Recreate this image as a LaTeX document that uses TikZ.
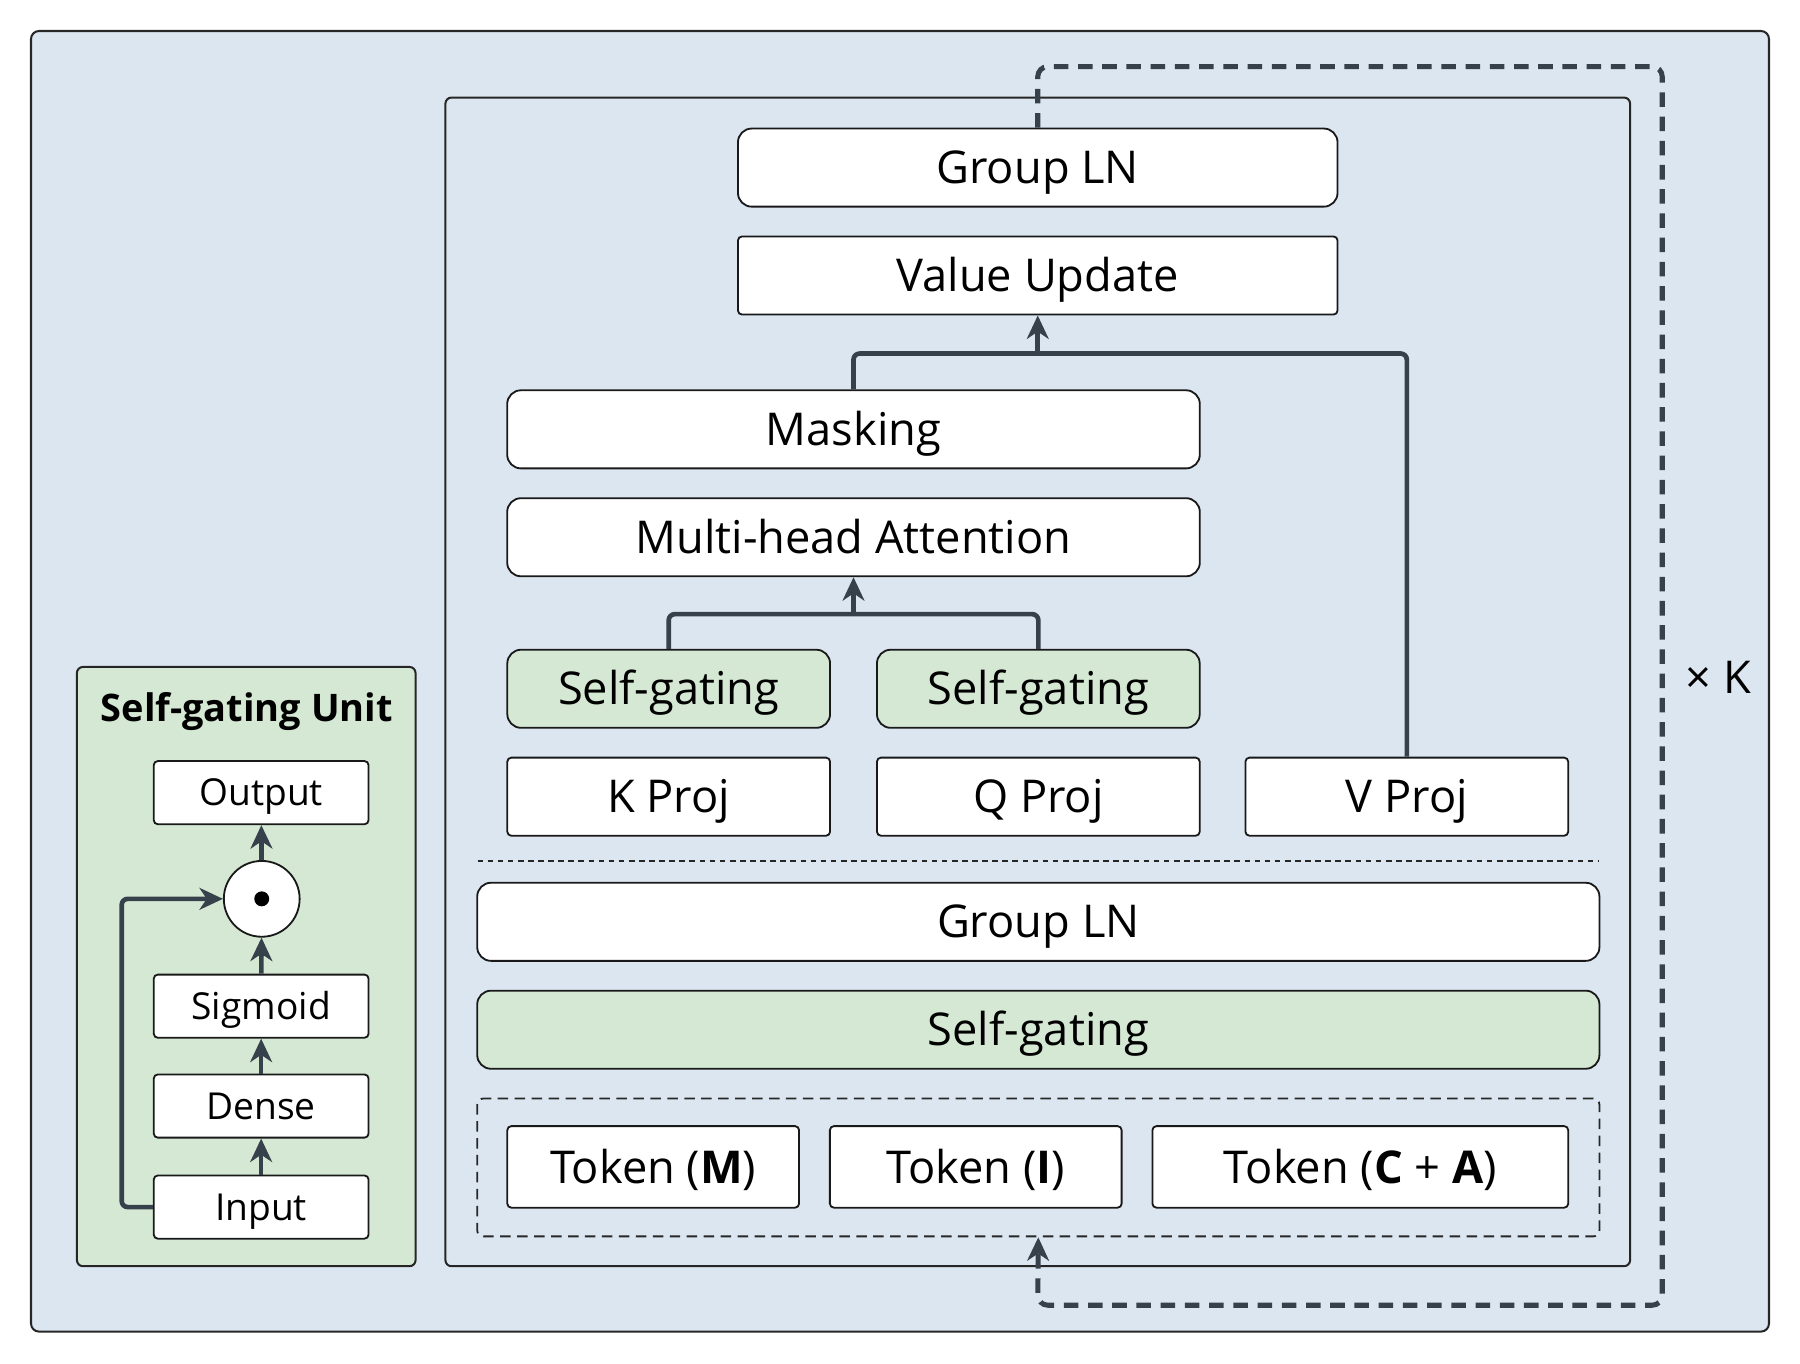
\documentclass[tikz,border=0pt]{standalone}
\usepackage{fontspec}
\setmainfont{Open Sans}
\usetikzlibrary{arrows.meta,positioning}
\definecolor{panelbg}{HTML}{DCE6F0}
\definecolor{gatefill}{HTML}{D5E8D4}
\definecolor{wire}{HTML}{37414B}
\tikzset{
  block/.style={draw=black!90, fill=white, line width=0.45pt, rounded corners=1pt,
    font=\fontsize{11.2}{13}\selectfont, text height=8pt, text depth=0pt,
    minimum height=0.68cm, inner sep=0pt},
  rblock/.style={block, rounded corners=0.12cm},
  gate/.style={rblock, fill=gatefill},
  small/.style={block, minimum width=1.87cm, minimum height=0.55cm,
    font=\fontsize{9.2}{11}\selectfont, text height=6.5pt},
  tokframe/.style={draw=black!85, line width=0.45pt, dash pattern=on 2.6pt off 1.6pt,
    rounded corners=1.5pt, minimum width=9.77cm, minimum height=1.2cm, inner sep=0pt},
  sep/.style={black!85, line width=0.45pt, dash pattern=on 1.4pt off 1.1pt},
  conn/.style={wire, line width=1.15pt, rounded corners=1.5pt},
  arr/.style={conn, -{Stealth[length=5.8pt,width=5.4pt,inset=1.8pt]}},
  loop/.style={wire, line width=1.25pt, dash pattern=on 3.6pt off 2.4pt, rounded corners=2.5pt},
}
\begin{document}
\begin{tikzpicture}[x=0.01cm,y=-0.01cm]
\useasboundingbox (0,0) rectangle (1568,1188);

% Frames
\draw[fill=panelbg, draw=black!85, line width=0.5pt, rounded corners=2pt] (27,27) rectangle (1541,1160);
\draw[draw=black!85, line width=0.5pt, rounded corners=1.5pt] (388,85) rectangle (1420,1103);
\draw[fill=gatefill, draw=black!85, line width=0.5pt, rounded corners=1.5pt] (67,581) rectangle (362,1103);

% Main block
\node[rblock, minimum width=5.22cm] (glnTop) at (904,146) {Group LN};
\node[block, minimum width=5.22cm] (valUpd) at (904,240) {Value Update};
\node[rblock, minimum width=6.03cm] (mask) at (743.5,374) {Masking};
\node[rblock, minimum width=6.03cm] (mha) at (743.5,468) {Multi-head Attention};
\node[gate, minimum width=2.81cm] (sgK) at (582.5,600) {Self-gating};
\node[gate, minimum width=2.81cm] (sgQ) at (904.5,600) {Self-gating};
\node[block, minimum width=2.81cm] (kProj) at (582.5,694) {K Proj};
\node[block, minimum width=2.81cm] (qProj) at (904.5,694) {Q Proj};
\node[block, minimum width=2.81cm] (vProj) at (1225.5,694) {V Proj};
\draw[sep] (416,750) -- (1393,750);
\node[rblock, minimum width=9.77cm] (glnLow) at (904.5,803) {Group LN};
\node[gate, minimum width=9.77cm] (sgAll) at (904.5,897) {Self-gating};

% Tokens
\node[tokframe] (tokens) at (904.5,1017) {};
\node[block, minimum width=2.54cm, minimum height=0.71cm] (tokM) at (569,1016.5) {Token (\textbf{M})};
\node[block, minimum width=2.54cm, minimum height=0.71cm] (tokI) at (850,1016.5) {Token (\textbf{I})};
\node[block, minimum width=3.62cm, minimum height=0.71cm] (tokCA) at (1185,1016.5) {Token (\textbf{C} + \textbf{A})};

% Connectors
\coordinate (attnJoin) at (743.5,535);
\draw[conn] (sgK.north) |- (attnJoin) -| (sgQ.north);
\draw[arr] (attnJoin) -- (mha.south);
\coordinate (valJoin) at (904,308);
\draw[conn] (mask.north) |- (valJoin) -| (vProj.north);
\draw[arr] (valJoin) -- (valUpd.south);

% Repeat loop
\draw[loop, -{Stealth[length=5.8pt,width=5.4pt,inset=1.8pt]}] (glnTop.north) |- (1448,58) |- (904,1137) -- (tokens.south);
\node[font=\fontsize{11.2}{13}\selectfont] (times) at (1497,590) {× K};

% Self-gating unit
\node[font=\bfseries\fontsize{9.4}{11}\selectfont] (sguTitle) at (215,620) {Self-gating Unit};
\node[small] (sguOut) at (227.5,690.5) {Output};
\node[circle, draw=black!90, fill=white, line width=0.45pt, minimum size=0.66cm, inner sep=0pt] (odot) at (228,783) {};
\fill (odot) circle (0.065cm);
\node[small] (sguSig) at (227.5,876.5) {Sigmoid};
\node[small] (sguDense) at (227.5,963.5) {Dense};
\node[small] (sguIn) at (227.5,1051.5) {Input};
\draw[arr] (sguIn) -- (sguDense);
\draw[arr] (sguDense) -- (sguSig);
\draw[arr] (sguSig) -- (odot);
\draw[arr] (odot) -- (sguOut);
\draw[arr] (sguIn.west) -| (106,783) -- (odot.west);
\end{tikzpicture}
\end{document}
